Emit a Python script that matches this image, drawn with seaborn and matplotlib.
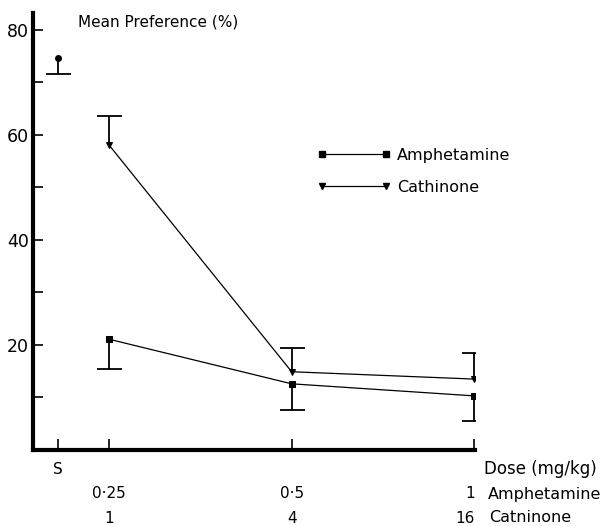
import numpy as np
import pandas as pd
import matplotlib
matplotlib.use("Agg")
import matplotlib.pyplot as plt
from matplotlib.lines import Line2D
import seaborn as sns

# values (mean preference %, one-sided SEM bars)
drugs = ["Amphetamine", "Cathinone"]
amph_dose = [0.25, 0.5, 1]
cath_dose = [1, 4, 16]
amph_mean = [21.1, 12.6, 10.3]
amph_err = [5.7, 5.0, 4.8]
cath_mean = [58.1, 14.9, 13.5]
cath_err = [5.5, 4.5, 5.0]
saline_mean = 74.7
saline_err = 3.2
row1_labels = ["S", "0·25", "0·5", "1"]
row2_labels = ["", "1", "4", "16"]
ytick_vals = [20, 40, 60, 80]

sns.set_theme(style="ticks")
plt.rcParams["font.family"] = ["DejaVu Sans"]
plt.rcParams["font.size"] = 11.5
plt.rcParams["text.color"] = "black"
plt.rcParams["xtick.color"] = "black"
plt.rcParams["ytick.color"] = "black"
plt.rcParams["axes.edgecolor"] = "black"

# x axis: equal spacing per doubling of amphetamine dose
xpos = list(np.log2(amph_dose))
s_x = xpos[0] - 0.28

df = pd.DataFrame({
    "x": xpos + xpos,
    "pref": amph_mean + cath_mean,
    "drug": [drugs[0]] * 3 + [drugs[1]] * 3,
})

fig = plt.figure(figsize=(6.03, 5.26), dpi=100)
ax = fig.add_axes([33 / 603, 1 - 450 / 526, (475 - 33) / 603, (450 - 13) / 526])

sns.lineplot(data=df, x="x", y="pref", hue="drug", style="drug",
             markers={"Amphetamine": "s", "Cathinone": "v"}, dashes=False,
             palette=["black", "black"], markersize=5, linewidth=0.9,
             markeredgecolor="black", legend=False, ax=ax)


def one_sided(xs, means, errs, sign):
    ends = [m + sign * e for m, e in zip(means, errs)]
    ax.vlines(xs, means, ends, color="black", lw=1.3)
    ax.plot(xs, ends, ls="none", marker="_", ms=18, mew=1.3, color="black")


one_sided(xpos, amph_mean, amph_err, -1)
one_sided(xpos, cath_mean, cath_err, +1)
one_sided([s_x], [saline_mean], [saline_err], -1)
ax.plot([s_x], [saline_mean], "o", color="black", ms=4)

ax.set_xlim(s_x - 0.135, xpos[-1] + 0.003)
ax.set_ylim(0, 83.2)
ax.set_xlabel("")
ax.set_ylabel("")

for side in ["top", "right"]:
    ax.spines[side].set_visible(False)
ax.spines["left"].set_linewidth(3)
ax.spines["bottom"].set_linewidth(3)

ax.set_yticks(ytick_vals)
ax.set_yticks([10, 30, 50, 70], minor=True)
ax.tick_params(axis="y", which="both", direction="in", length=7, width=1.2, pad=3)
ax.tick_params(axis="y", which="major", labelsize=12.5)

ax.set_xticks([s_x] + xpos)
labels = ["S\n\n"] + ["\n" + a + "\n" + b for a, b in zip(row1_labels[1:], row2_labels[1:])]
ax.set_xticklabels(labels)
ax.tick_params(axis="x", direction="in", length=8, width=1.2, pad=8.7, labelsize=11)
for t in ax.get_xticklabels():
    t.set_linespacing(1.78)
ax.get_xticklabels()[-1].set_ha("right")
ax.get_xticklabels()[-1].set_multialignment("right")

fig.text(78 / 603, 1 - 22 / 526, "Mean Preference (%)", va="center", ha="left", fontsize=11)
fig.text(484 / 603, 1 - 469 / 526, "Dose (mg/kg)", va="center", ha="left", fontsize=12)
fig.text(488 / 603, 1 - 494 / 526, "Amphetamine", va="center", ha="left", fontsize=11.5)
fig.text(489 / 603, 1 - 518 / 526, "Catninone", va="center", ha="left", fontsize=11.5)

handles = [
    Line2D([], [], color="black", lw=0.9, marker="s", ms=4),
    Line2D([], [], color="black", lw=0.9, marker="v", ms=4),
]
ax.legend(handles, drugs, numpoints=2, frameon=False, loc="upper left",
          bbox_to_anchor=(317 / 603, 1 - 148 / 526), bbox_transform=fig.transFigure,
          borderpad=0, borderaxespad=0, handlelength=4.6, handletextpad=0.4,
          labelspacing=1.05, fontsize=11.5)

fig.savefig("out.png", dpi=100)
